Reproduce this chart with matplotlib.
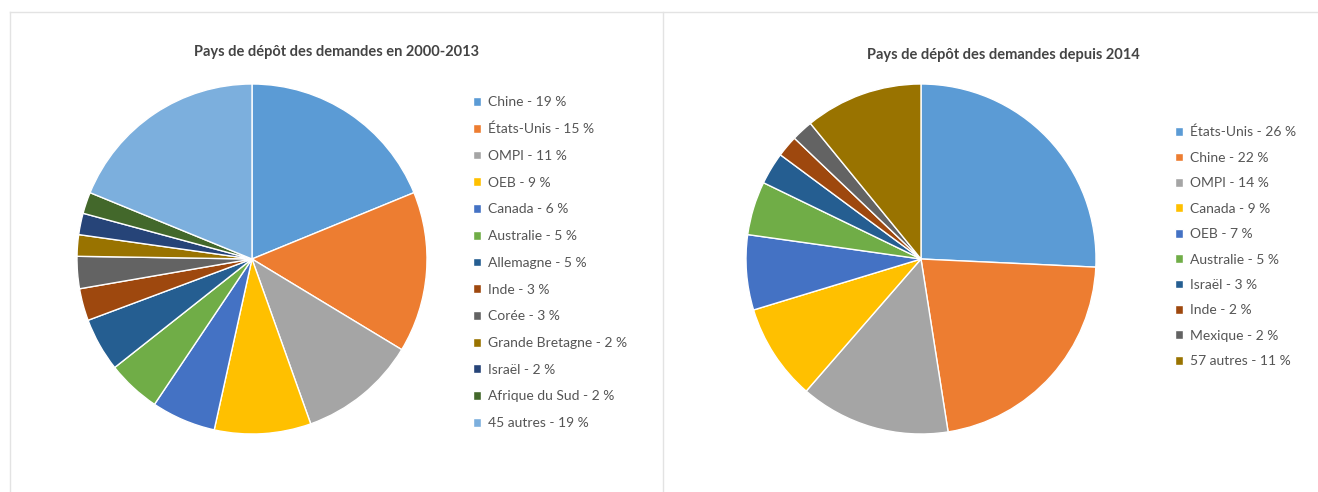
import matplotlib.pyplot as plt
from matplotlib.lines import Line2D

plt.rcParams['font.family'] = ['Lato', 'DejaVu Sans']

# data, left chart (2000-2013)
left_title = "Pays de dépôt des demandes en 2000-2013"
left_names = ["Chine", "États-Unis", "OMPI", "OEB", "Canada", "Australie", "Allemagne",
              "Inde", "Corée", "Grande Bretagne", "Israël", "Afrique du Sud", "45 autres"]
left_values = [19, 15, 11, 9, 6, 5, 5, 3, 3, 2, 2, 2, 19]
left_colors = ["#5B9BD5", "#ED7D31", "#A5A5A5", "#FFC000", "#4472C4", "#70AD47", "#255E91",
               "#9E480E", "#636363", "#997300", "#264478", "#43682B", "#7CAFDD"]

# data, right chart (since 2014)
right_title = "Pays de dépôt des demandes depuis 2014"
right_names = ["États-Unis", "Chine", "OMPI", "Canada", "OEB", "Australie", "Israël",
               "Inde", "Mexique", "57 autres"]
right_values = [26, 22, 14, 9, 7, 5, 3, 2, 2, 11]
right_colors = ["#5B9BD5", "#ED7D31", "#A5A5A5", "#FFC000", "#4472C4", "#70AD47", "#255E91",
                "#9E480E", "#636363", "#997300"]

W, H = 1318, 492
fig = plt.figure(figsize=(W / 100, H / 100), dpi=100)

def box(x0, y0, x1, y1):
    # pixel box (top-left origin) -> figure fraction
    return [x0 / W, 1 - y1 / H, (x1 - x0) / W, (y1 - y0) / H]

# panel borders
border = "#E3E3E3"
fig.add_artist(Line2D([10 / W, 1], [1 - 12 / H] * 2, color=border, lw=1))
fig.add_artist(Line2D([10 / W] * 2, [0, 1 - 12 / H], color=border, lw=1))
fig.add_artist(Line2D([663 / W] * 2, [0, 1 - 12 / H], color=border, lw=1))


def draw(pie_box, values, names, colors, title, title_xy, leg_xy, spacing):
    ax = fig.add_axes(box(*pie_box))
    wedges, _ = ax.pie(values, colors=colors, startangle=90, counterclock=False,
                       radius=1, wedgeprops=dict(edgecolor="white", linewidth=1))
    ax.set_xlim(-1, 1)
    ax.set_ylim(-1, 1)
    ax.set_aspect("equal")
    fig.text(title_xy[0] / W, 1 - title_xy[1] / H, title, ha="center", va="center",
             fontsize=10.5, fontweight="bold", color="#444444")
    labels = [f"{n} - {v} %" for n, v in zip(names, values)]
    fig.legend(wedges, labels, loc="upper left",
               bbox_to_anchor=(leg_xy[0] / W, 1 - leg_xy[1] / H),
               frameon=False, fontsize=10, labelcolor="#555555",
               handlelength=0.6, handleheight=0.6, handletextpad=0.5,
               labelspacing=spacing, borderpad=0, borderaxespad=0)


draw((77, 84, 427, 434), left_values, left_names, left_colors, left_title,
     (337, 52), (473, 96), 1.06)
draw((746, 84, 1096, 434), right_values, right_names, right_colors, right_title,
     (1003, 55), (1175, 126), 0.965)

fig.savefig("out.png", dpi=100, facecolor="white")
